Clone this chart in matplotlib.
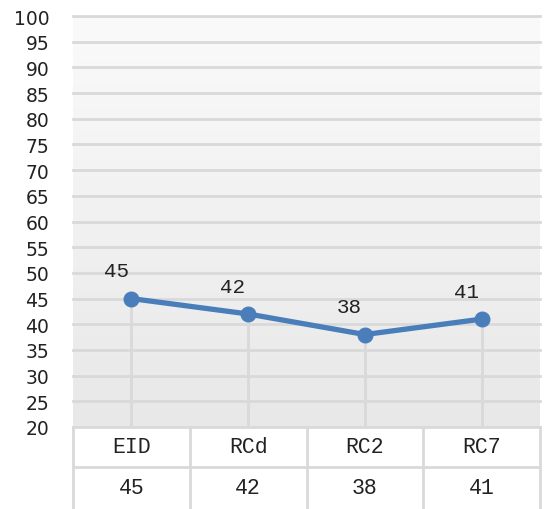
import numpy as np
import matplotlib.pyplot as plt

categories = ["EID", "RCd", "RC2", "RC7"]
values = [45, 42, 38, 41]
yticks = list(range(20, 101, 5))

W, H = 544, 510
fig = plt.figure(figsize=(W / 100, H / 100), dpi=100)

left, right, top, bottom = 73, 540, 17, 428
ax = fig.add_axes([left / W, 1 - bottom / H, (right - left) / W, (bottom - top) / H])

grid_col = "#d9d9d9"
line_col = "#4a7ebb"
mono = "Liberation Mono"

x = np.arange(len(categories))
ax.set_xlim(-0.5, len(categories) - 0.5)
ax.set_ylim(20, 100)

# background gradient, light at the top, darker at the bottom
grad = np.linspace(0, 1, 256).reshape(-1, 1)
ax.imshow(grad, extent=(-0.5, len(categories) - 0.5, 20, 100), aspect="auto",
          cmap=plt.matplotlib.colors.LinearSegmentedColormap.from_list("bg", ["#e8e8e8", "#fafafa"]),
          origin="lower", zorder=0)

for yv in yticks[1:]:
    ax.axhline(yv, color=grid_col, lw=2.0, zorder=1, clip_on=False)

# drop lines
ax.vlines(x, 20, values, color=grid_col, lw=2.0, zorder=1)

ax.plot(x, values, color=line_col, lw=3.8, marker="o", ms=10.5, zorder=3)

for xi, v in zip(x, values):
    ax.annotate(str(v), (xi, v), xytext=(-11, 20), textcoords="offset points",
                ha="center", va="center", fontsize=15, family=mono, color="#222222")

ax.set_yticks(yticks)
ax.set_yticklabels([str(t) for t in yticks], fontsize=13.5, color="#222222")
ax.tick_params(axis="y", length=0, pad=17)
ax.tick_params(axis="x", length=0, labelbottom=False)
for s in ax.spines.values():
    s.set_visible(False)

# data table below the plot
tab = fig.add_axes([left / W, 0, (right - left) / W, (H - bottom) / H])
tab.set_xlim(-0.5, len(categories) - 0.5)
tab.set_ylim(0, H - bottom)
tab.axis("off")
row_h = 40
tab.axhline(H - bottom, color=grid_col, lw=2.0, clip_on=False)
tab.axhline(H - bottom - row_h, color=grid_col, lw=2.0)
for b in np.arange(len(categories) + 1) - 0.5:
    tab.axvline(b, color=grid_col, lw=2.0, clip_on=False)
for xi, c, v in zip(x, categories, values):
    tab.text(xi, H - bottom - row_h / 2, c, ha="center", va="center",
             fontsize=15.5, family=mono, color="#222222")
    tab.text(xi, (H - bottom - row_h) / 2, str(v), ha="center", va="center",
             fontsize=15.5, family=mono, color="#222222")

fig.savefig("out.png", dpi=100)
